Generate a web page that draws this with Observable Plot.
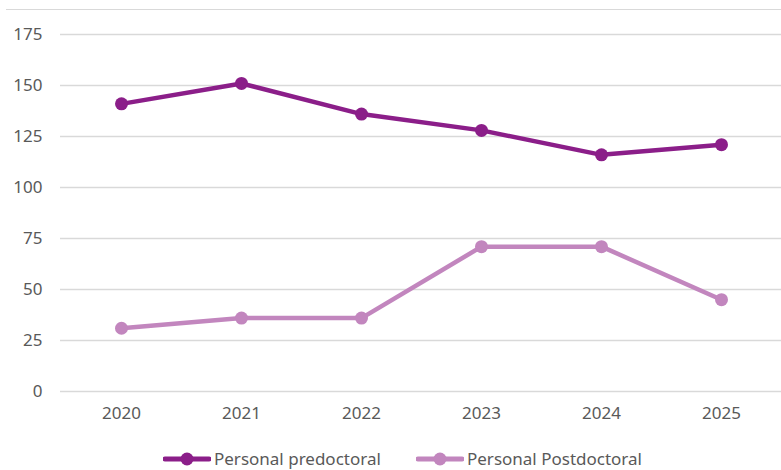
<!DOCTYPE html>
<html>
<head>
<meta charset="utf-8">
<script src="https://cdn.jsdelivr.net/npm/d3@7"></script>
<script src="https://cdn.jsdelivr.net/npm/@observablehq/plot@0.6"></script>
<style>
  html, body { margin: 0; padding: 0; background: #fff; width: 781px; height: 470px; overflow: hidden; }
  #topline { position: absolute; top: 9px; left: 6px; width: 775px; border-top: 1.5px solid #d9d9d9; }
  #chart { position: absolute; top: 0; left: 0; }
  #legend { position: absolute; top: 449px; left: 0; width: 781px; height: 21px; font-family: "Noto Sans", sans-serif; font-size: 17px; line-height: 20px; color: #595959; }
  .item { position: absolute; top: 0; display: flex; align-items: center; white-space: nowrap; }
  .item svg { margin-right: 3px; }
</style>
</head>
<body>
<div id="topline"></div>
<div id="chart"></div>
<div id="legend"></div>
<script>
const years = ["2020", "2021", "2022", "2023", "2024", "2025"];
const predoctoral = [141, 151, 136, 128, 116, 121];
const postdoctoral = [31, 36, 36, 71, 71, 45];
const seriesNames = ["Personal predoctoral", "Personal Postdoctoral"];
const seriesColors = ["#8B1E89", "#C286BE"];
const yTicks = [0, 25, 50, 75, 100, 125, 150, 175];

const data = [
  ...years.map((y, i) => ({year: y, value: predoctoral[i], series: seriesNames[0]})),
  ...years.map((y, i) => ({year: y, value: postdoctoral[i], series: seriesNames[1]}))
];

const plot = Plot.plot({
  width: 781,
  height: 440,
  marginLeft: 60,
  marginRight: 0,
  marginTop: 34,
  marginBottom: 49,
  style: {fontFamily: "'Noto Sans', sans-serif", fontSize: "17px", color: "#595959", background: "transparent", overflow: "visible"},
  x: {type: "point", domain: years, padding: 0.5, label: null},
  y: {domain: [0, 175], label: null},
  color: {domain: seriesNames, range: seriesColors},
  marks: [
    Plot.ruleY(yTicks, {stroke: "#d9d9d9", strokeWidth: 1.5}),
    Plot.axisY({ticks: yTicks, tickSize: 0, tickPadding: 18, label: null, fill: "#595959"}),
    Plot.axisX({tickSize: 0, tickPadding: 15, label: null, fill: "#595959"}),
    Plot.line(data, {x: "year", y: "value", z: "series", stroke: "series", strokeWidth: 4.5}),
    Plot.dot(data, {x: "year", y: "value", fill: "series", r: 6.5})
  ]
});
document.getElementById("chart").appendChild(plot);

const legend = document.getElementById("legend");
const lefts = [163, 416];
seriesNames.forEach((name, i) => {
  const item = document.createElement("div");
  item.className = "item";
  item.style.left = lefts[i] + "px";
  item.innerHTML = `<svg width="48" height="16"><line x1="2" x2="46" y1="8" y2="8" stroke="${seriesColors[i]}" stroke-width="5" stroke-linecap="round"/><circle cx="24" cy="8" r="6.5" fill="${seriesColors[i]}"/></svg><span>${name}</span>`;
  legend.appendChild(item);
});
</script>
</body>
</html>
